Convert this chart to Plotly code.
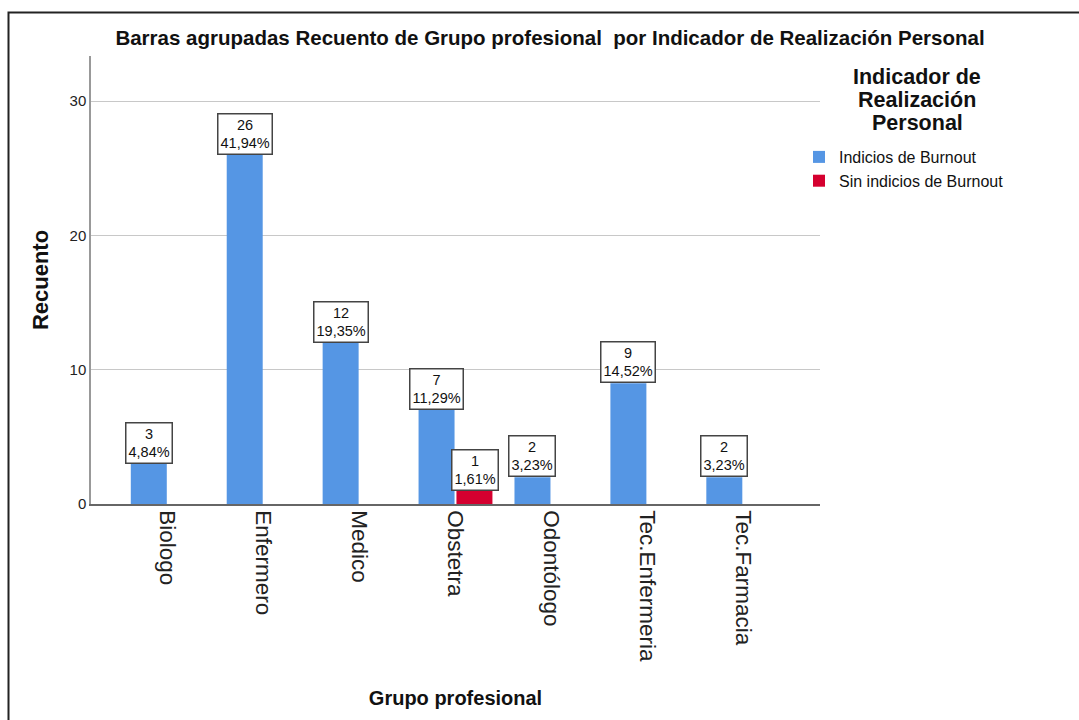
import plotly.graph_objects as go

categories = ["Biologo", "Enfermero", "Medico", "Obstetra", "Odontólogo", "Tec.Enfermeria", "Tec.Farmacia"]
series_names = ["Indicios de Burnout", "Sin indicios de Burnout"]
indicios = [3, 26, 12, 7, 2, 9, 2]
sin_indicios = [0, 0, 0, 1, 0, 0, 0]
indicios_pct = ["4,84%", "41,94%", "19,35%", "11,29%", "3,23%", "14,52%", "3,23%"]
sin_indicios_pct = ["", "", "", "1,61%", "", "", ""]
y_ticks = [0, 10, 20, 30]
legend_title_lines = ["Indicador de", "Realización", "Personal"]

BLUE = "#5596E4"
RED = "#D5002F"
FONT = "Liberation Sans, Arial, sans-serif"

W, H = 1079, 720
L, R, T, B = 91, 259, 56, 216
pw, ph = W - L - R, H - T - B

def px_x(px):
    return (px - L) / pw

def px_y(py):
    return (H - B - py) / ph

fig = go.Figure()
fig.add_trace(go.Bar(x=categories, y=indicios, name=series_names[0], marker_color=BLUE,
                     marker_line_width=0))
fig.add_trace(go.Bar(x=categories, y=[v if v > 0 else None for v in sin_indicios],
                     name=series_names[1], marker_color=RED, marker_line_width=0))

box = dict(showarrow=False, yanchor="bottom", font=dict(size=14.5, color="#111", family=FONT),
           bgcolor="white", bordercolor="#444", borderwidth=1.5, borderpad=2, xref="x", yref="y")
annotations = []
for cat, v, p in zip(categories, indicios, indicios_pct):
    if v > 0:
        annotations.append(dict(x=cat, y=v, text=f"{v}<br>{p}", xshift=-19, **box))
for cat, v, p in zip(categories, sin_indicios, sin_indicios_pct):
    if v > 0:
        annotations.append(dict(x=cat, y=v, text=f"{v}<br>{p}", xshift=19, **box))

# legend title (three centred lines)
for i, line in enumerate(legend_title_lines):
    annotations.append(dict(x=px_x(917), y=px_y(77 + 23 * i), xref="paper", yref="paper",
                            xanchor="center", yanchor="middle", text=f"<b>{line}</b>", showarrow=False,
                            font=dict(size=21.5, color="#111", family=FONT)))

fig.update_layout(
    width=W, height=H,
    margin=dict(l=L, r=R, t=T, b=B, autoexpand=False),
    paper_bgcolor="white", plot_bgcolor="white",
    barmode="group", bargap=0.21, bargroupgap=0.05,
    font=dict(family=FONT, color="#111"),
    title=dict(text="<b>Barras agrupadas Recuento de Grupo profesional  por Indicador de Realización Personal</b>",
               x=550 / W, xanchor="center", y=1 - 38 / H, yanchor="middle",
               font=dict(size=20.5, color="#111", family=FONT)),
    xaxis=dict(range=[-0.8, 6.8], tickangle=90, tickfont=dict(size=22.5, color="#222", family=FONT),
               showline=True, linecolor="#666", linewidth=1.5, showgrid=False, ticks="",
               title=dict(text="<b>Grupo profesional</b>", font=dict(size=20, color="#111", family=FONT),
                          standoff=30)),
    yaxis=dict(range=[0, 33.36], tickvals=y_ticks, tickfont=dict(size=15, color="#222", family=FONT),
               showline=True, linecolor="#999", linewidth=1.5, showgrid=True, gridcolor="#C8C8C8",
               gridwidth=1, ticks="", zeroline=False,
               title=dict(text="<b>Recuento</b>", font=dict(size=22, color="#111", family=FONT), standoff=15)),
    legend=dict(x=px_x(799), y=px_y(140), xanchor="left", yanchor="top",
                font=dict(size=16, color="#111", family=FONT),
                bgcolor="rgba(0,0,0,0)", tracegroupgap=0, itemsizing="constant"),
    annotations=annotations,
    shapes=[dict(type="rect", xref="paper", yref="paper", x0=px_x(8.5), x1=px_x(1200), y0=px_y(800), y1=px_y(12.5),
                 line=dict(color="#222", width=2), fillcolor="rgba(0,0,0,0)", layer="below")],
)

fig.write_html("out.html", config={"displayModeBar": False},
               post_script="document.body.style.margin='0px';")
